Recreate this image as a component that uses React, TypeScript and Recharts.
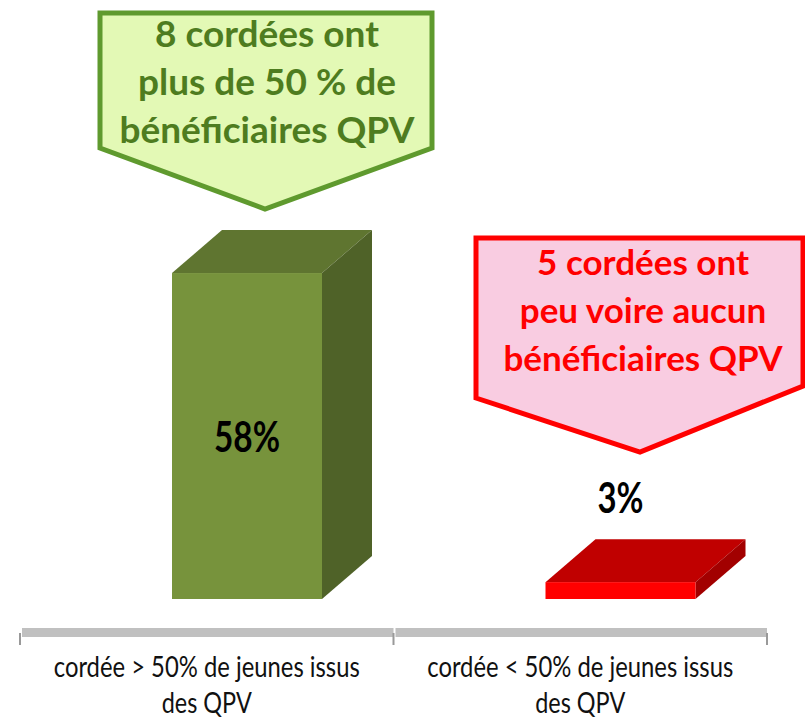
import React from "react";
import { BarChart, Bar, XAxis, YAxis, LabelList } from "recharts";

// categories and values
const categories = [
  "cordée > 50% de jeunes issus des QPV",
  "cordée < 50% de jeunes issus des QPV",
];
const labelLines = [
  ["cordée > 50% de jeunes issus", "des QPV"],
  ["cordée < 50% de jeunes issus", "des QPV"],
];
const shares = [58, 3];
const greenNote = ["8 cordées ont", "plus de 50 % de", "bénéficiaires QPV"];
const redNote = ["5 cordées ont", "peu voire aucun", "bénéficiaires QPV"];

const W = 805;
const H = 721;
const MARGIN = { top: 37, right: 38, bottom: 0, left: 20 };
const BAND = (W - MARGIN.left - MARGIN.right) / categories.length;
const SHIFT = 40; // front face sits right of the band centre
const DX = 50;
const DY = -43;

const palette = [
  { front: "#77933c", top: "#5f7530", side: "#4f6228" },
  { front: "#ff0000", top: "#c00000", side: "#a20000" },
];

const data = categories.map((name, i) => ({ name, share: shares[i] }));

const Box3D = (props: any) => {
  const { x, y, width, height, index } = props;
  const c = palette[index ?? 0];
  const fx = x + SHIFT;
  const r = fx + width;
  return (
    <g>
      <polygon
        points={`${fx},${y} ${fx + DX},${y + DY} ${r + DX},${y + DY} ${r},${y}`}
        fill={c.top}
      />
      <polygon
        points={`${r},${y} ${r + DX},${y + DY} ${r + DX},${y + height + DY} ${r},${y + height}`}
        fill={c.side}
      />
      <rect x={fx} y={y} width={width} height={height} fill={c.front} />
    </g>
  );
};

const ValueLabel = (props: any) => {
  const { x, y, width, height, value } = props;
  const cx = x + SHIFT + width / 2;
  const inside = height > 60;
  const cy = inside ? y + height / 2 : y + DY - 42;
  return (
    <text
      x={cx}
      y={cy}
      textAnchor="middle"
      dominantBaseline="central"
      fontFamily="Lato"
      fontWeight={700}
      fontSize={42}
      fill="#000"
      textLength={inside ? 66 : 46}
      lengthAdjust="spacingAndGlyphs"
    >
      {`${value}%`}
    </text>
  );
};

const AxisTick = (props: any) => {
  const { x, y, index } = props;
  const lines = labelLines[index] || [];
  const half = BAND / 2;
  return (
    <g>
      <rect x={x - half + 2} y={y + 29} width={BAND - 2} height={9} fill="#c0c0c0" />
      {index === 0 && (
        <line x1={x - half} x2={x - half} y1={y + 34} y2={y + 46} stroke="#999" strokeWidth={2} />
      )}
      <line x1={x + half} x2={x + half} y1={y + 34} y2={y + 46} stroke="#999" strokeWidth={2} />
      {lines.map((t, i) => (
        <text
          key={i}
          x={x}
          y={y + 78 + i * 36}
          textAnchor="middle"
          fontFamily="Lato"
          fontSize={28}
          fill="#111"
          textLength={i === 0 ? 306 : 90}
          lengthAdjust="spacingAndGlyphs"
        >
          {t}
        </text>
      ))}
    </g>
  );
};

const Callout = ({
  points,
  fill,
  stroke,
  color,
  lines,
  cx,
  y0,
  fontSize,
}: {
  points: string;
  fill: string;
  stroke: string;
  color: string;
  lines: string[];
  cx: number;
  y0: number;
  fontSize: number;
}) => (
  <g>
    <polygon points={points} fill={fill} stroke={stroke} strokeWidth={5} strokeLinejoin="miter" />
    {lines.map((t, i) => (
      <text
        key={i}
        x={cx}
        y={y0 + i * 48}
        textAnchor="middle"
        fontFamily="Lato"
        fontWeight={700}
        fontSize={fontSize}
        fill={color}
      >
        {t}
      </text>
    ))}
  </g>
);

export default function App() {
  return (
    <div style={{ position: "absolute", left: 0, top: 0, width: W, height: H, background: "#fff" }}>
      <BarChart width={W} height={H} data={data} margin={MARGIN}>
        <YAxis hide domain={[0, 100]} />
        <XAxis
          dataKey="name"
          axisLine={false}
          tickLine={false}
          tickSize={0}
          tickMargin={0}
          height={122}
          interval={0}
          tick={<AxisTick />}
        />
        <Bar dataKey="share" barSize={150} shape={<Box3D />} isAnimationActive={false}>
          <LabelList dataKey="share" content={<ValueLabel />} />
        </Bar>
      </BarChart>
      <svg
        width={W}
        height={H}
        style={{ position: "absolute", left: 0, top: 0, pointerEvents: "none" }}
      >
        <Callout
          points="100,13 432,13 432,148 265,209 100,148"
          fill="#e3f9b5"
          stroke="#5f9a2e"
          color="#4e7c1f"
          lines={greenNote}
          cx={267}
          y0={47}
          fontSize={37}
        />
        <Callout
          points="476,238 803,238 803,386 640,452 476,398"
          fill="#f9cce1"
          stroke="#ff0000"
          color="#ff0000"
          lines={redNote}
          cx={643}
          y0={275}
          fontSize={35}
        />
      </svg>
    </div>
  );
}
